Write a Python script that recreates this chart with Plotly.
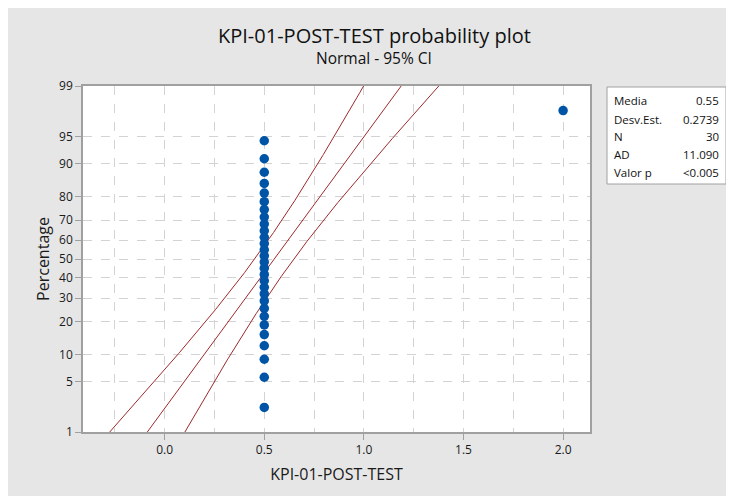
import plotly.graph_objects as go
from statistics import NormalDist

# ---- data ----
values = [0.5] * 29 + [2.0]
percent = [2.30, 5.59, 8.88, 12.17, 15.46, 18.75, 22.04, 25.33, 28.62, 31.91,
           35.20, 38.49, 41.78, 45.07, 48.36, 51.64, 54.93, 58.22, 61.51, 64.80,
           68.09, 71.38, 74.67, 77.96, 81.25, 84.54, 87.83, 91.12, 94.41, 97.70]
mean = 0.55
stdev = 0.2739
n = 30
y_ticks = [1, 5, 10, 20, 30, 40, 50, 60, 70, 80, 90, 95, 99]
x_ticks = [0.0, 0.5, 1.0, 1.5, 2.0]
stat_labels = ["Media", "Desv.Est.", "N", "AD", "Valor p"]
stat_values = ["0.55", "0.2739", "30", "11.090", "<0.005"]

nd = NormalDist()
def probit(p):
    return nd.inv_cdf(p / 100.0)

# fitted line and 95% CI (computed from mean / stdev / n, probit scale)
line_p = [1 + i * 0.25 for i in range(393)]
line_z = [probit(p) for p in line_p]
fit_x = [mean + z * stdev for z in line_z]
se = [stdev * ((1 + z * z / 2) / n) ** 0.5 for z in line_z]
lo_x = [f - 1.96 * s for f, s in zip(fit_x, se)]
hi_x = [f + 1.96 * s for f, s in zip(fit_x, se)]

FONT = "Open Sans"
RED = "#9E2A2B"
BLUE = "#0054A6"
GRID = "#D3D3D3"
TXT = "#1A1A1A"

fig = go.Figure()
for xs in (lo_x, fit_x, hi_x):
    fig.add_trace(go.Scatter(x=xs, y=line_z, mode="lines",
                             line=dict(color=RED, width=1), hoverinfo="skip"))
fig.add_trace(go.Scatter(x=values, y=[probit(p) for p in percent], mode="markers",
                         marker=dict(color=BLUE, size=9.5)))

# page offset (browser body margin) -> figure coordinates
OX, OY = 8, 8
W, H = 734 - OX, 496 - OY
L, R, T, B = 83 - OX, 590 - OX, 86 - OY, 432 - OY
pw, ph = R - L, B - T
def px(x):
    return (x - OX - L) / pw
def py(y):
    return (B - (y - OY)) / ph

fig.update_layout(
    width=W, height=H,
    margin=dict(l=L, r=W - R, t=T, b=H - B),
    paper_bgcolor="#E6E6E6",
    plot_bgcolor="white",
    showlegend=False,
    font=dict(family=FONT, color=TXT),
    xaxis=dict(range=[-0.41, 2.135], tickvals=x_ticks,
               ticktext=[f"{t:.1f}" for t in x_ticks],
               showgrid=True, gridcolor=GRID, griddash="dash", gridwidth=1,
               minor=dict(dtick=0.25, tick0=0, showgrid=True, gridcolor=GRID,
                          griddash="dash", gridwidth=1, ticks=""),
               zeroline=False, showline=True, linecolor="#A0A0A0", linewidth=1.5,
               mirror=True, ticks="outside", ticklen=6, tickcolor="#A0A0A0",
               tickfont=dict(size=12, color=TXT),
               title=dict(text="KPI-01-POST-TEST", font=dict(size=16, color=TXT),
                          standoff=12)),
    yaxis=dict(range=[probit(1), probit(99)], tickvals=[probit(t) for t in y_ticks],
               ticktext=[str(t) for t in y_ticks],
               showgrid=True, gridcolor=GRID, griddash="dash", gridwidth=1,
               zeroline=False, showline=True, linecolor="#A0A0A0", linewidth=1.5,
               mirror=True, ticks="outside", ticklen=6, tickcolor="#A0A0A0",
               tickfont=dict(size=12, color=TXT),
               title=dict(text="Percentage", font=dict(size=16, color=TXT),
                          standoff=6)),
)

# title and subtitle
fig.add_annotation(xref="paper", yref="paper", x=px(374), y=py(35),
                   text="KPI-01-POST-TEST probability plot", showarrow=False,
                   xanchor="center", yanchor="middle",
                   font=dict(size=20, color="#111111"))
fig.add_annotation(xref="paper", yref="paper", x=px(374), y=py(58),
                   text="Normal - 95% CI", showarrow=False,
                   xanchor="center", yanchor="middle",
                   font=dict(size=15.5, color="#111111"))

# statistics box
bx0, bx1, by0, by1 = 607, 726, 87, 184
fig.add_shape(type="rect", xref="paper", yref="paper", x0=px(bx0), x1=px(bx1),
              y0=py(by1), y1=py(by0), fillcolor="white",
              line=dict(color="#A0A0A0", width=1))
rows_y = [101, 119, 136, 154, 172]
for lab, val, yy in zip(stat_labels, stat_values, rows_y):
    fig.add_annotation(xref="paper", yref="paper", x=px(bx0 + 5), y=py(yy), text=lab,
                       showarrow=False, xanchor="left", yanchor="middle",
                       font=dict(size=11.5, color="#111111"))
    fig.add_annotation(xref="paper", yref="paper", x=px(bx1 - 5), y=py(yy), text=val,
                       showarrow=False, xanchor="right", yanchor="middle",
                       font=dict(size=11.5, color="#111111"))

fig.write_html("out.html")
